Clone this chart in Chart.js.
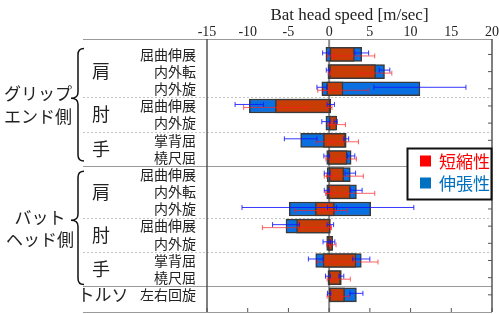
<!DOCTYPE html>
<html>
<head>
<meta charset="utf-8">
<script src="https://cdn.jsdelivr.net/npm/chart.js@4.4.1/dist/chart.umd.min.js"></script>
<style>
    html, body { margin: 0; padding: 0; background: #fff; }
    #wrap { width: 499px; height: 314px; position: relative; }
</style>
</head>
<body>
<div id="wrap"><canvas id="speedChart"></canvas></div>
<script>
// rows, top to bottom
const rowLabels = ['屈曲伸展', '内外転', '内外旋', '屈曲伸展', '内外旋', '掌背屈', '橈尺屈',
                   '屈曲伸展', '内外転', '内外旋', '屈曲伸展', '内外旋', '掌背屈', '橈尺屈', '左右回旋'];
const xTicks = [-15, -10, -5, 0, 5, 10, 15, 20];

// 伸張性 (blue) bar ends and their errors
const blueLow     = [-0.4, -0.15, -0.9, -9.8, -0.4, -3.5, -0.3, -0.25, -0.3, -4.9, -5.3, -0.3, -1.65, -0.15, 0.0];
const blueHigh    = [4.0, 6.8, 11.15, 0.2, 0.8, 2.1, 2.7, 2.6, 3.35, 5.1, 0.15, 0.4, 3.95, 1.5, 3.35];
const blueLowErr  = [0.4, 0.2, 0.6, 1.75, 0.5, 2.0, 0.35, 0.35, 0.3, 5.8, 1.65, 0.45, 0.9, 0.3, 0.2];
const blueHighErr = [0.85, 0.65, 5.65, 0.45, 0.2, 0.3, 0.45, 0.65, 0.7, 5.3, 0.4, 0.3, 1.05, 0.3, 0.8];

// 短縮性 (red) bar ends and their errors
const redLow      = [0.1, 0.05, -0.3, -6.6, 0.0, -0.7, -0.1, 0.0, -0.1, -1.7, -4.0, -0.1, -0.75, -0.05, 0.05];
const redHigh     = [3.1, 5.7, 1.7, 0.1, 0.95, 2.0, 2.2, 1.8, 2.6, 0.65, 0.1, 0.45, 3.3, 1.4, 1.9];
const redLowErr   = [0.3, 0.15, 0.4, 3.9, 0.15, 0.9, 0.3, 0.3, 0.3, 2.5, 4.2, 0.2, 0.7, 0.2, 0.3];
const redHighErr  = [2.5, 2.0, 3.1, 0.25, 1.05, 1.6, 1.15, 2.4, 3.0, 1.5, 0.2, 0.4, 2.7, 1.2, 0.5];

const RED = '#c83c05';
const BLUE = '#0a6fe0';
const JP = "'Noto Sans CJK JP', sans-serif";
const SERIF = "'Liberation Serif', serif";

function seg(ctx, x1, y1, x2, y2) {
    ctx.beginPath();
    ctx.moveTo(x1, y1);
    ctx.lineTo(x2, y2);
    ctx.stroke();
}

function whisker(ctx, xs, v, e, py) {
    const l = xs.getPixelForValue(v - e);
    const r = xs.getPixelForValue(v + e);
    ctx.beginPath();
    ctx.moveTo(l, py); ctx.lineTo(r, py);
    ctx.moveTo(l, py - 2.5); ctx.lineTo(l, py + 2.5);
    ctx.moveTo(r, py - 2.5); ctx.lineTo(r, py + 2.5);
    ctx.stroke();
}

function brace(ctx, xr, xm, xt, yt, ym, yb) {
    const r = 6;
    ctx.beginPath();
    ctx.moveTo(xr, yt);
    ctx.quadraticCurveTo(xm, yt, xm, yt + r);
    ctx.lineTo(xm, ym - r);
    ctx.quadraticCurveTo(xm, ym, xt, ym);
    ctx.quadraticCurveTo(xm, ym, xm, ym + r);
    ctx.lineTo(xm, yb - r);
    ctx.quadraticCurveTo(xm, yb, xr, yb);
    ctx.stroke();
}

const decor = {
    id: 'decor',
    beforeDatasetsDraw(chart) {
        const { ctx, chartArea: a, scales: { x, y } } = chart;
        ctx.save();
        ctx.lineWidth = 1;
        // dashed separators between body parts
        ctx.strokeStyle = '#c4c4c4';
        ctx.setLineDash([2, 2]);
        [3.5, 5.5, 10.5, 12.5].forEach(v => {
            const py = Math.round(y.getPixelForValue(v)) + 0.5;
            seg(ctx, 83, py, a.right, py);
        });
        ctx.setLineDash([]);
        // solid separators between groups
        ctx.strokeStyle = '#9a9a9a';
        [a.top, y.getPixelForValue(7.5), y.getPixelForValue(14.5), a.bottom].forEach(p => {
            const py = Math.round(p) + 0.5;
            seg(ctx, 83, py, a.right, py);
        });
        // zero line
        ctx.strokeStyle = '#8c8c8c';
        ctx.lineWidth = 2;
        const x0 = x.getPixelForValue(0);
        seg(ctx, x0, a.top, x0, a.bottom);
        ctx.restore();
    },
    afterDatasetsDraw(chart) {
        const { ctx, chartArea: a, scales: { x, y } } = chart;
        ctx.save();

        // error bars
        ctx.lineWidth = 1;
        rowLabels.forEach((_, i) => {
            const yc = y.getPixelForValue(i + 1);
            ctx.strokeStyle = 'rgba(255, 30, 30, 0.7)';
            whisker(ctx, x, redLow[i], redLowErr[i], yc + 1.5);
            whisker(ctx, x, redHigh[i], redHighErr[i], yc + 1.5);
            ctx.strokeStyle = 'rgba(20, 20, 255, 0.85)';
            whisker(ctx, x, blueLow[i], blueLowErr[i], yc - 1.5);
            whisker(ctx, x, blueHigh[i], blueHighErr[i], yc - 1.5);
        });

        // frame and inner ticks
        ctx.strokeStyle = '#555';
        ctx.lineWidth = 1.5;
        seg(ctx, a.left, a.top, a.left, a.bottom);
        seg(ctx, a.right, a.top, a.right, a.bottom);
        ctx.lineWidth = 1;
        xTicks.forEach(v => {
            const px = x.getPixelForValue(v);
            seg(ctx, px, a.bottom, px, a.bottom - 4);
        });
        rowLabels.forEach((_, i) => {
            const py = y.getPixelForValue(i + 1);
            seg(ctx, a.right, py, a.right - 4, py);
        });

        // legend
        ctx.fillStyle = '#fff';
        ctx.fillRect(407.5, 148.5, 84, 51);
        ctx.strokeStyle = '#111';
        ctx.lineWidth = 2;
        ctx.strokeRect(407.5, 148.5, 84, 51);
        ctx.fillStyle = '#ff0000';
        ctx.fillRect(420, 155.5, 11, 11);
        ctx.fillStyle = '#0070c0';
        ctx.fillRect(420, 177.5, 11, 11);
        ctx.font = '17px ' + JP;
        ctx.textAlign = 'left';
        ctx.textBaseline = 'middle';
        ctx.fillStyle = '#ff0000';
        ctx.fillText('短縮性', 439, 161.5);
        ctx.fillStyle = '#0070c0';
        ctx.fillText('伸張性', 439, 183.5);

        ctx.restore();
    },
    afterDraw(chart) {
        const { ctx, scales: { y } } = chart;
        ctx.save();
        ctx.fillStyle = '#222';
        ctx.textBaseline = 'middle';

        // row labels, right aligned against the plot
        ctx.textAlign = 'right';
        ctx.font = '14px ' + JP;
        rowLabels.forEach((l, i) => ctx.fillText(l, 196, y.getPixelForValue(i + 1)));

        ctx.textAlign = 'center';
        ctx.font = '17px ' + JP;
        ctx.fillText('グリップ', 38, 94);
        ctx.fillText('エンド側', 38, 117);
        ctx.fillText('バット', 40, 218);
        ctx.fillText('ヘッド側', 40, 240);
        ctx.fillText('トルソ', 103, y.getPixelForValue(15));

        ctx.font = '18px ' + JP;
        ctx.fillText('肩', 101, y.getPixelForValue(2));
        ctx.fillText('肘', 101, y.getPixelForValue(4.5));
        ctx.fillText('手', 101, y.getPixelForValue(6.5));
        ctx.fillText('肩', 101, y.getPixelForValue(9));
        ctx.fillText('肘', 101, y.getPixelForValue(11.5));
        ctx.fillText('手', 101, y.getPixelForValue(13.5));

        ctx.strokeStyle = '#111';
        ctx.lineWidth = 1.5;
        brace(ctx, 84, 78, 71, y.getPixelForValue(0.65), y.getPixelForValue(3.55), y.getPixelForValue(7.2));
        brace(ctx, 84, 78, 71, y.getPixelForValue(7.8), y.getPixelForValue(10.65), y.getPixelForValue(14.4));
        ctx.restore();
    }
};

const ctxSpeed = document.getElementById('speedChart');
new Chart(ctxSpeed, {
    type: 'bar',
    data: {
        datasets: [
            {
                label: '短縮性',
                data: rowLabels.map((_, i) => ({ y: i + 1, x: [redLow[i], redHigh[i]] })),
                backgroundColor: RED,
                borderColor: '#3a3a3a',
                borderWidth: 1.5,
                borderSkipped: false,
                barThickness: 14,
                grouped: false,
                order: 0
            },
            {
                label: '伸張性',
                data: rowLabels.map((_, i) => ({ y: i + 1, x: [blueLow[i], blueHigh[i]] })),
                backgroundColor: BLUE,
                borderColor: '#3a3a3a',
                borderWidth: 1.5,
                borderSkipped: false,
                barThickness: 14,
                grouped: false,
                order: 1
            }
        ]
    },
    options: {
        indexAxis: 'y',
        responsive: true,
        maintainAspectRatio: false,
        animation: false,
        layout: { padding: { top: 0, right: 7, bottom: 2, left: 0 } },
        plugins: {
            legend: { display: false },
            tooltip: { enabled: false }
        },
        scales: {
            x: {
                type: 'linear',
                position: 'top',
                min: -15,
                max: 20,
                afterBuildTicks: (s) => { s.ticks = xTicks.map(v => ({ value: v })); },
                afterFit: (s) => { s.height = 39; },
                grid: { display: false, drawTicks: false },
                border: { display: false },
                ticks: { color: '#222', padding: -2, font: { family: SERIF, size: 14 } },
                title: {
                    display: true,
                    text: 'Bat head speed [m/sec]',
                    color: '#222',
                    padding: { top: 5, bottom: 0 },
                    font: { family: SERIF, size: 17 }
                }
            },
            y: {
                type: 'linear',
                reverse: true,
                offset: false,
                min: 0.1,
                max: 16,
                afterFit: (s) => { s.width = 207; },
                grid: { display: false, drawTicks: false, offset: false },
                border: { display: false },
                ticks: { display: false }
            }
        }
    },
    plugins: [decor]
});
</script>
</body>
</html>
